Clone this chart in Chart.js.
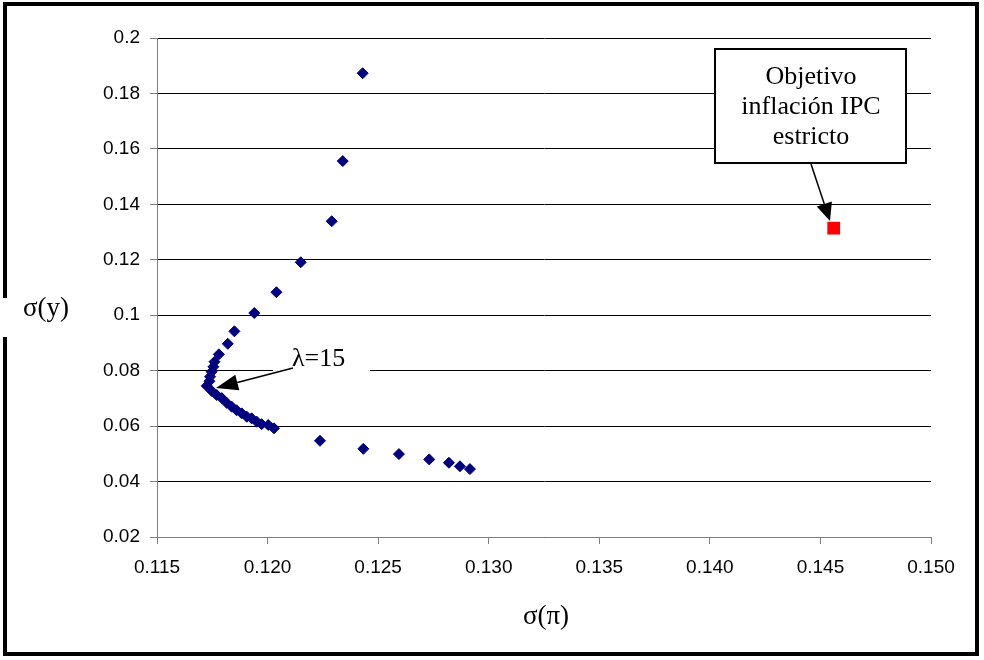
<!DOCTYPE html>
<html><head><meta charset="utf-8">
<script src="https://cdn.jsdelivr.net/npm/chart.js@4"></script>
<style>html,body{margin:0;padding:0;background:#fff}</style>
</head><body>
<canvas id="c" width="984" height="660" style="display:block;width:984px;height:660px"></canvas>
<script>
// σ(π) values of the frontier points
const sigmaPi = [0.1243, 0.1234, 0.1229, 0.1215, 0.1204, 0.1194, 0.1185, 0.1182, 0.1178, 0.1176,
  0.11755, 0.11747, 0.1174, 0.11737, 0.11725, 0.11747, 0.1177, 0.11793, 0.11815, 0.11838,
  0.1186, 0.11883, 0.11906, 0.11928, 0.11951, 0.11973, 0.12003, 0.12029, 0.12237, 0.12433,
  0.12594, 0.12731, 0.1282, 0.1287, 0.12915];
// σ(y) values of the frontier points
const sigmaY = [0.1873, 0.1556, 0.1339, 0.1191, 0.1083, 0.1008, 0.0942, 0.0897, 0.0859, 0.0832,
  0.0814, 0.0796, 0.0778, 0.0762, 0.0745, 0.0727, 0.0712, 0.0701, 0.0684, 0.0670,
  0.0657, 0.0646, 0.0634, 0.0628, 0.0616, 0.0607, 0.0604, 0.0592, 0.0547, 0.0518,
  0.0499, 0.0480, 0.0468, 0.0455, 0.0445];
// strict CPI inflation target point
const strictPi = [0.1456];
const strictY = [0.1314];
const xTicks = [0.115, 0.120, 0.125, 0.130, 0.135, 0.140, 0.145, 0.150];
const yTicks = [0.02, 0.04, 0.06, 0.08, 0.1, 0.12, 0.14, 0.16, 0.18, 0.2];
const xTitle = 'σ(π)';
const yTitle = 'σ(y)';
const boxLines = ['Objetivo', 'inflación IPC', 'estricto'];
const lambdaLabel = 'λ=15';

const frontier = sigmaPi.map((x, i) => ({x, y: sigmaY[i]}));
const strict = strictPi.map((x, i) => ({x, y: strictY[i]}));

function arrow(ctx, x1, y1, x2, y2, len, w) {
  const a = Math.atan2(y2 - y1, x2 - x1);
  const bx = x2 - Math.cos(a) * len, by = y2 - Math.sin(a) * len;
  ctx.beginPath(); ctx.moveTo(x1, y1); ctx.lineTo(bx, by); ctx.stroke();
  const px = -Math.sin(a) * w / 2, py = Math.cos(a) * w / 2;
  ctx.beginPath(); ctx.moveTo(x2, y2); ctx.lineTo(bx + px, by + py); ctx.lineTo(bx - px, by - py);
  ctx.closePath(); ctx.fill();
}

const SERIF = '"Liberation Serif", "Times New Roman", serif';
const deco = {
  id: 'deco',
  beforeDraw(chart) {
    const ctx = chart.ctx; ctx.save(); ctx.fillStyle = '#fff';
    ctx.fillRect(0, 0, chart.width, chart.height); ctx.restore();
  },
  afterDraw(chart) {
    const ctx = chart.ctx;
    ctx.save();
    // λ label with white background
    ctx.fillStyle = '#fff';
    ctx.fillRect(273, 345, 97, 29);
    ctx.fillStyle = '#000'; ctx.strokeStyle = '#000'; ctx.lineWidth = 1.5;
    ctx.font = '26px ' + SERIF;
    ctx.textBaseline = 'middle'; ctx.textAlign = 'left';
    ctx.fillText(lambdaLabel, 292, 359);
    arrow(ctx, 293, 368, 216, 388, 22, 16);
    // text box
    ctx.fillStyle = '#fff';
    ctx.fillRect(714, 48, 193, 116);
    ctx.lineWidth = 2; ctx.strokeStyle = '#000';
    ctx.strokeRect(715, 49, 191, 114);
    ctx.fillStyle = '#000'; ctx.textAlign = 'center';
    ctx.font = '26px ' + SERIF;
    boxLines.forEach((t, i) => ctx.fillText(t, 811, 77 + i * 30));
    ctx.lineWidth = 1.5;
    arrow(ctx, 811, 164, 830, 221, 18, 16);
    // axis titles
    ctx.font = '27px ' + SERIF;
    ctx.fillText(yTitle, 46, 309);
    ctx.fillText(xTitle, 546, 617);
    // outer frame
    ctx.lineWidth = 4; ctx.strokeStyle = '#000';
    ctx.strokeRect(5, 4, 972, 650);
    ctx.fillStyle = '#fff';
    ctx.fillRect(0, 298, 10, 39);
    ctx.restore();
  }
};

new Chart(document.getElementById('c'), {
  type: 'scatter',
  data: {
    datasets: [
      {data: frontier, pointStyle: 'rectRot', radius: 5.5, hoverRadius: 5.5,
       backgroundColor: '#000080', borderColor: '#000080', borderWidth: 1},
      {data: strict, pointStyle: 'rect', radius: 9, hoverRadius: 9,
       backgroundColor: '#ff0000', borderColor: '#ff0000', borderWidth: 0}
    ]
  },
  options: {
    responsive: false, animation: false, devicePixelRatio: 1,
    layout: {padding: {top: 38, right: 53, left: 0, bottom: 0}},
    plugins: {legend: {display: false}, tooltip: {enabled: false}},
    scales: {
      x: {
        type: 'linear', min: 0.115, max: 0.150,
        afterBuildTicks: s => { s.ticks = xTicks.map(v => ({value: v})); },
        afterFit: s => { s.height = 123; },
        ticks: {callback: v => v.toFixed(3), color: '#000', padding: 12, maxRotation: 0,
          font: {family: '"Liberation Sans", Arial, sans-serif', size: 19}},
        grid: {drawOnChartArea: false, tickLength: 7, tickColor: '#808080'},
        border: {color: '#808080', width: 1}
      },
      y: {
        type: 'linear', min: 0.02, max: 0.2,
        afterBuildTicks: s => { s.ticks = yTicks.map(v => ({value: v})); },
        afterFit: s => { s.width = 157; },
        ticks: {callback: v => String(parseFloat(v.toFixed(2))), color: '#000', padding: 10,
          font: {family: '"Liberation Sans", Arial, sans-serif', size: 19}},
        grid: {color: '#000', lineWidth: 1, tickLength: 7, tickColor: '#808080'},
        border: {color: '#808080', width: 1}
      }
    }
  },
  plugins: [deco]
});
</script>
</body></html>
